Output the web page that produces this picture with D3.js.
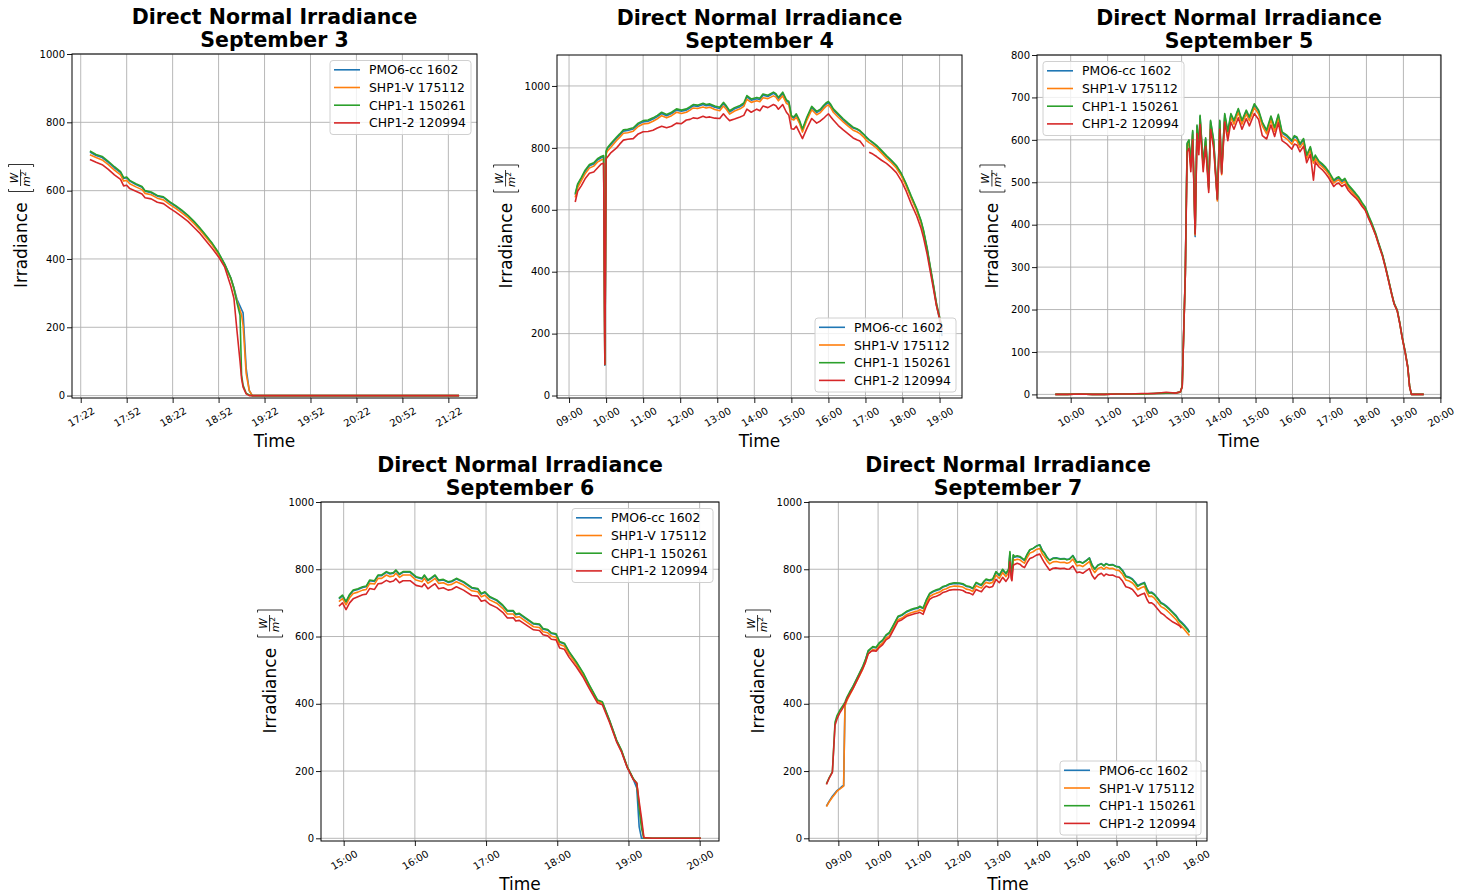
<!DOCTYPE html>
<html>
<head>
<meta charset="utf-8">
<script src="https://cdn.jsdelivr.net/npm/d3@7"></script>
<style>
  body { margin: 0; background: #fff; }
  svg { display: block; font-family: "DejaVu Sans", sans-serif; }
</style>
</head>
<body>
<svg id="chart" width="1471" height="895"></svg>
<script>
const seriesNames = ['PMO6-cc 1602', 'SHP1-V 175112', 'CHP1-1 150261', 'CHP1-2 120994']
const seriesColors = ['#1f77b4', '#ff7f0e', '#2ca02c', '#d62728']

// ---- September 3
const sep3Times = ['17:28','17:32','17:36','17:40','17:44','17:48','17:50','17:52','17:54','17:58','18:02','18:04','18:08','18:12','18:16','18:20','18:24','18:28','18:32','18:36','18:40','18:44','18:48','18:52','18:56','19:00','19:02','19:04','19:06','19:07','19:08','19:10','19:12','19:14','19:30','20:00','20:30','21:00','21:29']
const sep3Pmo6 = [713,703,697,683,667,653,636,638,628,618,610,598,594,584,580,566,554,541,526,508,488,466,443,416,384,344,316,282,262,252,242,80,15,0,0,0,0,0,0]
const sep3Shp1 = [705,697,690,676,660,646,628,630,620,611,603,592,588,578,573,560,548,535,521,503,484,462,440,414,382,342,312,276,250,236,205,65,15,0,0,0,0,0,0]
const sep3Chp11 = [716,706,700,686,670,656,638,640,630,620,612,600,596,586,582,568,556,543,528,510,490,468,445,418,385,344,314,272,235,60,30,7,2,0,0,0,0,0,0]
const sep3Chp12 = [691,683,676,662,646,633,614,616,606,598,590,579,576,566,562,549,537,524,510,492,474,452,430,406,376,320,285,190,100,50,25,5,0,0,0,0,0,0,0]
const sep3Ticks = ['17:22','17:52','18:22','18:52','19:22','19:52','20:22','20:52','21:22']

// ---- September 4
const sep4Times = ['09:10','09:14','09:20','09:26','09:33','09:40','09:46','09:52','09:56','09:58','10:00','10:02','10:08','10:17','10:22','10:28','10:35','10:44','10:52','11:00','11:08','11:16','11:23','11:30','11:38','11:46','11:54','12:02','12:10','12:16','12:21','12:28','12:37','12:42','12:48','12:56','13:04','13:10','13:15','13:20','13:28','13:37','13:43','13:48','13:55','14:04','14:09','14:14','14:22','14:31','14:35','14:39','14:46','14:52','14:56','15:00','15:04','15:08','15:13','15:18','15:25','15:33','15:41','15:47','15:52','15:56','16:00','16:04','16:08','16:16','16:24','16:32','16:40','16:46','16:51','16:58','17:02','17:06','17:12','17:18','17:26','17:34','17:42','17:50','17:58','18:06','18:14','18:23','18:30','18:34','18:40','18:45','18:50','18:55','19:00','19:04']
const sep4Pmo6 = [648,680,701,724,742,748,761,768,771,98,786,797,811,831,841,854,856,861,876,884,886,893,901,911,904,911,922,918,922,929,936,934,940,936,938,931,927,943,931,916,926,933,941,965,954,959,956,970,966,976,971,959,976,951,946,900,896,906,886,857,895,930,914,921,933,941,946,936,922,906,890,876,864,860,854,842,834,826,816,806,790,773,758,741,715,681,642,601,562,531,472,412,355,292,245,192]
const sep4Shp1 = [640,672,694,716,735,741,754,761,764,100,780,789,803,824,834,847,849,854,869,877,879,886,894,904,897,904,915,911,915,922,929,927,932,929,931,924,920,935,924,909,919,926,934,957,947,952,949,962,959,968,964,952,968,944,939,893,890,899,880,851,889,923,907,914,926,934,939,929,915,899,884,870,857,852,846,833,823,817,809,799,783,766,752,735,710,676,638,597,558,527,468,410,354,293,250,215]
const sep4Chp11 = [652,684,705,728,746,752,765,772,775,100,790,800,815,835,845,858,860,865,880,888,890,897,905,915,908,915,926,922,926,933,940,938,944,940,942,935,931,947,935,920,930,937,945,969,958,963,960,974,970,980,975,963,980,955,950,904,900,910,890,861,899,934,918,925,937,945,950,940,926,910,894,880,867,862,856,842,832,826,818,808,792,775,760,743,718,684,645,604,565,534,475,416,360,298,255,222]
const sep4Chp12 = [625,660,678,700,718,722,735,748,750,100,765,770,785,800,812,825,828,830,845,852,853,857,864,870,865,870,880,878,890,892,897,895,902,898,900,896,895,910,898,888,893,900,905,925,915,925,920,935,930,940,936,925,940,915,905,862,860,870,850,830,862,895,880,887,895,903,910,900,890,872,858,845,832,826,822,804,null,786,780,772,760,750,736,720,694,660,620,580,540,510,455,400,345,290,250,210]
const sep4Ticks = ['09:00','10:00','11:00','12:00','13:00','14:00','15:00','16:00','17:00','18:00','19:00']

// ---- September 5
const sep5Times = ['09:35','09:55','10:15','10:35','10:55','11:15','11:35','11:55','12:15','12:35','12:50','12:58','13:01','13:06','13:09','13:12','13:15','13:18','13:22','13:25','13:28','13:30','13:35','13:39','13:44','13:47','13:52','13:58','14:02','14:05','14:10','14:15','14:20','14:25','14:32','14:38','14:45','14:50','14:58','15:05','15:11','15:18','15:25','15:31','15:37','15:43','15:51','15:59','16:03','16:07','16:12','16:18','16:23','16:29','16:34','16:37','16:43','16:48','16:54','16:59','17:03','17:07','17:11','17:15','17:20','17:25','17:30','17:36','17:42','17:47','17:53','17:58','18:04','18:09','18:15','18:20','18:26','18:31','18:36','18:41','18:45','18:50','18:54','18:58','19:03','19:07','19:10','19:13','19:20','19:33']
const sep5Pmo6 = [0,0,1,0,0,1,1,1,2,3,3,5,18,282,590,598,542,619,372,632,582,655,541,602,486,643,597,459,643,522,659,617,659,643,671,643,667,651,682,667,639,620,653,626,657,616,608,596,607,604,588,600,561,581,549,561,547,541,532,522,512,502,507,510,501,506,492,482,472,463,449,439,417,400,377,354,328,299,268,236,213,197,168,134,98,65,19,0,0,0]
const sep5Shp1 = [0,0,1,0,0,1,1,1,2,3,3,5,18,280,585,592,536,613,376,626,577,649,536,597,482,637,592,456,637,518,653,611,653,637,665,637,661,645,676,661,633,614,647,620,651,610,602,590,601,598,582,594,556,576,545,556,543,537,528,518,508,498,503,506,497,502,488,478,468,460,446,436,415,398,376,353,327,299,268,236,213,197,168,134,98,65,19,0,0,0]
const sep5Chp11 = [0,0,1,0,0,1,1,1,2,3,3,6,20,285,592,600,545,622,380,635,585,658,544,605,489,646,600,462,646,525,662,620,662,646,674,646,670,654,685,670,642,623,656,629,660,619,611,599,610,607,591,603,564,584,552,564,550,544,535,525,515,505,510,513,504,509,495,485,475,466,452,442,420,403,380,356,330,301,270,238,215,199,170,136,100,66,20,0,0,0]
const sep5Chp12 = [0,0,1,0,0,1,1,2,2,5,3,6,18,280,572,580,525,600,378,615,565,636,525,585,476,625,580,460,625,520,642,598,642,625,652,625,650,633,662,648,610,602,635,608,640,598,590,578,590,588,572,585,546,566,505,548,536,530,520,510,500,490,496,498,490,495,482,472,464,456,443,434,413,397,375,352,326,298,267,236,213,197,168,134,98,64,18,0,0,0]
const sep5Ticks = ['10:00','11:00','12:00','13:00','14:00','15:00','16:00','17:00','18:00','19:00','20:00']

// ---- September 6
const sep6Times = ['14:56','14:59','15:02','15:05','15:08','15:12','15:16','15:19','15:22','15:26','15:29','15:32','15:36','15:39','15:42','15:44','15:47','15:50','15:56','16:01','16:06','16:08','16:11','16:14','16:17','16:20','16:24','16:28','16:31','16:35','16:41','16:48','16:53','16:56','16:59','17:03','17:09','17:14','17:18','17:23','17:25','17:28','17:34','17:40','17:45','17:48','17:52','17:55','17:59','18:02','18:06','18:10','18:16','18:22','18:27','18:34','18:38','18:44','18:50','18:54','18:59','19:04','19:07','19:09','19:11','19:13','19:20','19:40','20:01']
const sep6Pmo6 = [712,721,702,723,736,740,746,748,766,764,781,781,791,786,788,796,784,791,791,776,771,781,766,773,781,766,768,761,763,771,761,744,741,726,731,717,707,692,675,675,665,667,652,637,635,622,619,609,606,583,578,553,523,489,454,409,404,350,290,261,211,176,150,35,0,0,0,0,0]
const sep6Shp1 = [704,713,694,715,728,732,738,740,758,756,773,773,783,778,780,788,776,783,783,768,763,773,758,765,773,758,760,753,755,763,753,736,733,718,723,709,699,684,667,667,657,659,644,629,627,614,611,601,598,576,571,547,518,485,451,407,402,349,290,261,212,177,164,100,45,0,0,0,0]
const sep6Chp11 = [714,723,704,725,738,742,748,750,768,766,783,783,793,788,790,798,786,793,793,778,773,783,768,775,783,768,770,763,765,773,763,746,743,728,733,719,709,694,677,677,667,669,654,639,637,624,621,611,608,585,580,555,525,491,456,411,406,352,292,263,213,178,164,90,30,0,0,0,0]
const sep6Chp12 = [690,700,680,700,712,718,724,726,743,740,757,758,767,762,765,772,760,766,766,752,748,757,742,750,757,742,745,738,740,748,738,722,720,705,708,696,686,672,655,656,646,648,634,620,618,605,602,592,590,566,562,538,510,478,445,402,397,345,287,258,210,175,164,110,60,2,0,0,0]
const sep6Ticks = ['15:00','16:00','17:00','18:00','19:00','20:00']

// ---- September 7
const sep7Times = ['08:42','08:46','08:51','08:55','08:58','09:02','09:06','09:08','09:10','09:13','09:17','09:22','09:27','09:32','09:37','09:41','09:45','09:49','09:52','09:57','10:02','10:07','10:12','10:17','10:22','10:26','10:30','10:36','10:43','10:49','10:55','11:00','11:03','11:08','11:13','11:18','11:23','11:28','11:33','11:38','11:43','11:48','11:55','12:03','12:08','12:13','12:18','12:23','12:28','12:32','12:36','12:40','12:43','12:48','12:53','12:58','13:03','13:08','13:13','13:17','13:19','13:21','13:22','13:24','13:26','13:30','13:34','13:38','13:41','13:45','13:49','13:54','13:59','14:04','14:08','14:11','14:15','14:19','14:24','14:29','14:35','14:41','14:45','14:49','14:54','15:00','15:04','15:09','15:14','15:19','15:23','15:27','15:32','15:37','15:41','15:44','15:49','15:54','15:59','16:04','16:09','16:14','16:19','16:24','16:28','16:32','16:37','16:42','16:46','16:49','16:53','16:57','17:02','17:07','17:11','17:15','17:20','17:25','17:30','17:35','17:38','17:42','17:47','17:50']
const sep7Pmo6 = [96,110,125,135,142,148,155,157,398,415,432,450,470,490,510,530,556,563,568,566,580,588,603,610,628,643,658,663,673,678,682,684,688,683,708,727,733,737,740,747,750,755,758,757,755,749,747,742,759,755,752,763,769,766,769,791,781,798,786,798,848,788,776,841,836,838,836,830,826,843,857,862,869,873,856,849,836,827,833,834,831,832,829,831,841,821,823,819,826,834,813,801,813,817,811,817,813,814,809,807,797,780,777,771,762,751,757,761,742,731,732,726,714,701,697,691,682,672,662,648,643,635,623,614]
const sep7Shp1 = [94,108,122,132,140,146,152,155,393,410,426,444,464,484,504,524,549,556,561,559,573,581,595,602,620,635,650,655,665,670,674,676,680,675,700,719,725,729,732,739,742,747,750,749,747,741,739,734,751,747,744,755,761,758,761,783,773,790,778,790,840,782,770,830,827,830,828,822,818,835,848,852,859,862,845,838,825,816,822,823,820,821,818,820,830,810,812,808,815,823,802,790,802,806,800,806,802,803,798,796,785,768,765,759,750,739,745,749,730,719,720,714,702,689,685,679,670,660,650,636,630,622,610,603]
const sep7Chp11 = [162,180,198,345,365,380,392,398,405,420,435,452,472,492,512,532,558,565,570,568,582,590,605,612,630,645,660,665,675,680,684,686,690,685,710,729,735,739,742,749,752,757,760,759,757,751,749,744,761,757,754,765,771,768,771,793,783,800,788,800,853,790,778,843,838,840,838,832,828,845,858,862,869,872,855,848,835,826,832,833,830,831,828,830,840,820,822,818,825,833,812,800,812,816,810,816,812,813,808,806,795,778,775,769,760,749,755,759,740,729,730,724,712,699,695,689,680,670,660,645,640,632,620,612]
const sep7Chp12 = [160,178,196,336,355,372,385,392,400,414,428,445,465,485,505,524,548,555,558,556,568,576,590,597,615,630,645,650,660,664,668,670,672,666,692,711,717,720,724,731,734,738,740,739,737,731,729,724,740,736,733,744,750,746,749,770,760,776,764,776,822,772,766,812,814,818,815,808,805,820,832,836,842,845,830,820,808,797,803,804,802,803,800,801,810,790,792,788,795,802,782,771,783,788,780,786,782,783,778,776,765,748,745,740,730,720,725,729,710,700,700,694,682,670,665,658,650,643,638,632,625,null,null,null]
const sep7Ticks = ['09:00','10:00','11:00','12:00','13:00','14:00','15:00','16:00','17:00','18:00']

const panels = [
  {day: 'September 3', times: sep3Times, series: [sep3Pmo6, sep3Shp1, sep3Chp11, sep3Chp12], ticks: sep3Ticks,
    xLim: ['17:16:18', '21:40:42'], yLim: [-7, 1000], yTicks: d3.range(0, 1001, 200), box: [72, 54, 477, 398], legend: 'upper right'},
  {day: 'September 4', times: sep4Times, series: [sep4Pmo6, sep4Shp1, sep4Chp11, sep4Chp12], ticks: sep4Ticks,
    xLim: ['08:40:30', '19:36:20'], yLim: [-8, 1100], yTicks: d3.range(0, 1001, 200), box: [557, 55, 962, 398], legend: 'lower right'},
  {day: 'September 5', times: sep5Times, series: [sep5Pmo6, sep5Shp1, sep5Chp11, sep5Chp12], ticks: sep5Ticks,
    xLim: ['09:05:20', '20:01:00'], yLim: [-8.5, 800], yTicks: d3.range(0, 801, 100), box: [1037, 55, 1441, 398], legend: 'upper left'},
  {day: 'September 6', times: sep6Times, series: [sep6Pmo6, sep6Shp1, sep6Chp11, sep6Chp12], ticks: sep6Ticks,
    xLim: ['14:40:54', '20:16:18'], yLim: [-8, 1000], yTicks: d3.range(0, 1001, 200), box: [321, 502, 719, 841], legend: 'upper right'},
  {day: 'September 7', times: sep7Times, series: [sep7Pmo6, sep7Shp1, sep7Chp11, sep7Chp12], ticks: sep7Ticks,
    xLim: ['08:15:42', '18:16:30'], yLim: [-8, 1000], yTicks: d3.range(0, 1001, 200), box: [809, 502, 1207, 841], legend: 'lower right'}
]

const svg = d3.select('#chart')
const parseHM = d3.timeParse('%H:%M')
const parseHMS = d3.timeParse('%H:%M:%S')
const toTime = s => (s.length > 5 ? parseHMS(s) : parseHM(s))
const fmt = d3.timeFormat('%H:%M')

panels.forEach((p, pi) => {
  const [x0, y0, x1, y1] = p.box
  const x = d3.scaleTime().domain(p.xLim.map(toTime)).range([x0, x1])
  const y = d3.scaleLinear().domain(p.yLim).range([y1, y0])
  const tickTimes = p.ticks.map(toTime)
  const g = svg.append('g').attr('class', 'panel')

  g.append('clipPath').attr('id', 'clip' + pi)
    .append('rect').attr('x', x0).attr('y', y0).attr('width', x1 - x0).attr('height', y1 - y0)

  // grid
  const grid = g.append('g').attr('stroke', '#b0b0b0').attr('stroke-width', 0.9)
  grid.selectAll('line.gx').data(tickTimes).join('line').attr('class', 'gx')
    .attr('x1', d => x(d)).attr('x2', d => x(d)).attr('y1', y0).attr('y2', y1)
  grid.selectAll('line.gy').data(p.yTicks).join('line').attr('class', 'gy')
    .attr('x1', x0).attr('x2', x1).attr('y1', d => y(d)).attr('y2', d => y(d))

  // series
  const times = p.times.map(toTime)
  const line = d3.line()
    .defined(d => d.v != null)
    .x(d => x(d.t))
    .y(d => y(d.v))
  const plot = g.append('g').attr('clip-path', `url(#clip${pi})`)
  p.series.forEach((vals, si) => {
    const pts = vals.map((v, i) => ({t: times[i], v: v}))
    plot.append('path').datum(pts)
      .attr('d', line)
      .attr('fill', 'none')
      .attr('stroke', seriesColors[si])
      .attr('stroke-width', 1.6)
      .attr('stroke-linejoin', 'round')
  })

  // axes
  const xAxis = g.append('g').attr('transform', `translate(0,${y1})`)
    .call(d3.axisBottom(x).tickValues(tickTimes).tickFormat(fmt).tickSize(5).tickPadding(2))
  xAxis.attr('font-family', null).attr('font-size', null)
  xAxis.select('.domain').remove()
  xAxis.selectAll('line').attr('stroke', '#000').attr('stroke-width', 0.9)
  xAxis.selectAll('text')
    .attr('y', 0).attr('dy', null)
    .attr('transform', 'translate(0,19) rotate(-30)')
    .attr('text-anchor', 'middle')
    .attr('dominant-baseline', 'central')
    .attr('font-size', 10).attr('fill', '#000')

  const yAxis = g.append('g').attr('transform', `translate(${x0},0)`)
    .call(d3.axisLeft(y).tickValues(p.yTicks).tickFormat(d3.format('d')).tickSize(5).tickPadding(2))
  yAxis.attr('font-family', null).attr('font-size', null)
  yAxis.select('.domain').remove()
  yAxis.selectAll('line').attr('stroke', '#000').attr('stroke-width', 0.9)
  yAxis.selectAll('text').attr('font-size', 10).attr('fill', '#000')

  g.append('rect').attr('x', x0).attr('y', y0).attr('width', x1 - x0).attr('height', y1 - y0)
    .attr('fill', 'none').attr('stroke', '#000').attr('stroke-width', 1)

  // titles
  const cx = (x0 + x1) / 2
  const title = g.append('text').attr('x', cx).attr('text-anchor', 'middle')
    .attr('font-size', 20.5).attr('font-weight', 'bold').attr('fill', '#000')
  title.append('tspan').attr('x', cx).attr('y', y0 - 30).text('Direct Normal Irradiance')
  title.append('tspan').attr('x', cx).attr('y', y0 - 7).text(p.day)

  g.append('text').attr('x', cx).attr('y', y1 + 49).attr('text-anchor', 'middle')
    .attr('font-size', 17).attr('fill', '#000').text('Time')

  // y label: Irradiance [W / m^2]
  const tickLeft = yAxis.node().getBBox().x + x0
  const baseX = tickLeft - 13
  const cy = (y0 + y1) / 2
  const yl = g.append('g').attr('transform', `translate(${baseX},${cy}) rotate(-90)`).attr('fill', '#000')
  yl.append('text').attr('x', -62).attr('y', 0).attr('font-size', 17).text('Irradiance')
  const br = 'M37,-18 L34.5,-18 L34.5,7 L37,7'
  yl.append('path').attr('d', br).attr('fill', 'none').attr('stroke', '#000').attr('stroke-width', 0.8)
  yl.append('path').attr('d', 'M59,-18 L61.5,-18 L61.5,7 L59,7').attr('fill', 'none').attr('stroke', '#000').attr('stroke-width', 0.8)
  yl.append('text').attr('x', 48).attr('y', -8.5).attr('text-anchor', 'middle')
    .attr('font-size', 10.5).attr('font-style', 'italic').text('W')
  yl.append('line').attr('x1', 40).attr('x2', 56.5).attr('y1', -6).attr('y2', -6)
    .attr('stroke', '#000').attr('stroke-width', 0.8)
  const m2 = yl.append('text').attr('x', 47).attr('y', 3.5).attr('text-anchor', 'middle')
    .attr('font-size', 10.5).attr('font-style', 'italic')
  m2.append('tspan').text('m')
  m2.append('tspan').attr('font-size', 7.5).attr('font-style', 'normal').attr('dy', -4).text('2')

  // legend
  const lw = 141, lh = 74, inset = 6
  const lx = p.legend.includes('left') ? x0 + inset : x1 - inset - lw
  const ly = p.legend.includes('upper') ? y0 + 6.5 : y1 - inset - lh
  const leg = g.append('g').attr('transform', `translate(${lx},${ly})`)
  leg.append('rect').attr('width', lw).attr('height', lh).attr('rx', 3)
    .attr('fill', '#fff').attr('fill-opacity', 0.8).attr('stroke', '#d0d0d0').attr('stroke-width', 1)
  const rows = leg.selectAll('g.row').data(seriesNames).join('g').attr('class', 'row')
    .attr('transform', (d, i) => `translate(0,${9.3 + i * 17.7})`)
  rows.append('line').attr('x1', 4).attr('x2', 30).attr('y1', 0).attr('y2', 0)
    .attr('stroke', (d, i) => seriesColors[i]).attr('stroke-width', 1.6)
  rows.append('text').attr('x', 39).attr('y', 0).attr('dominant-baseline', 'central')
    .attr('font-size', 12.4).attr('fill', '#000').text(d => d)
})
</script>
</body>
</html>
